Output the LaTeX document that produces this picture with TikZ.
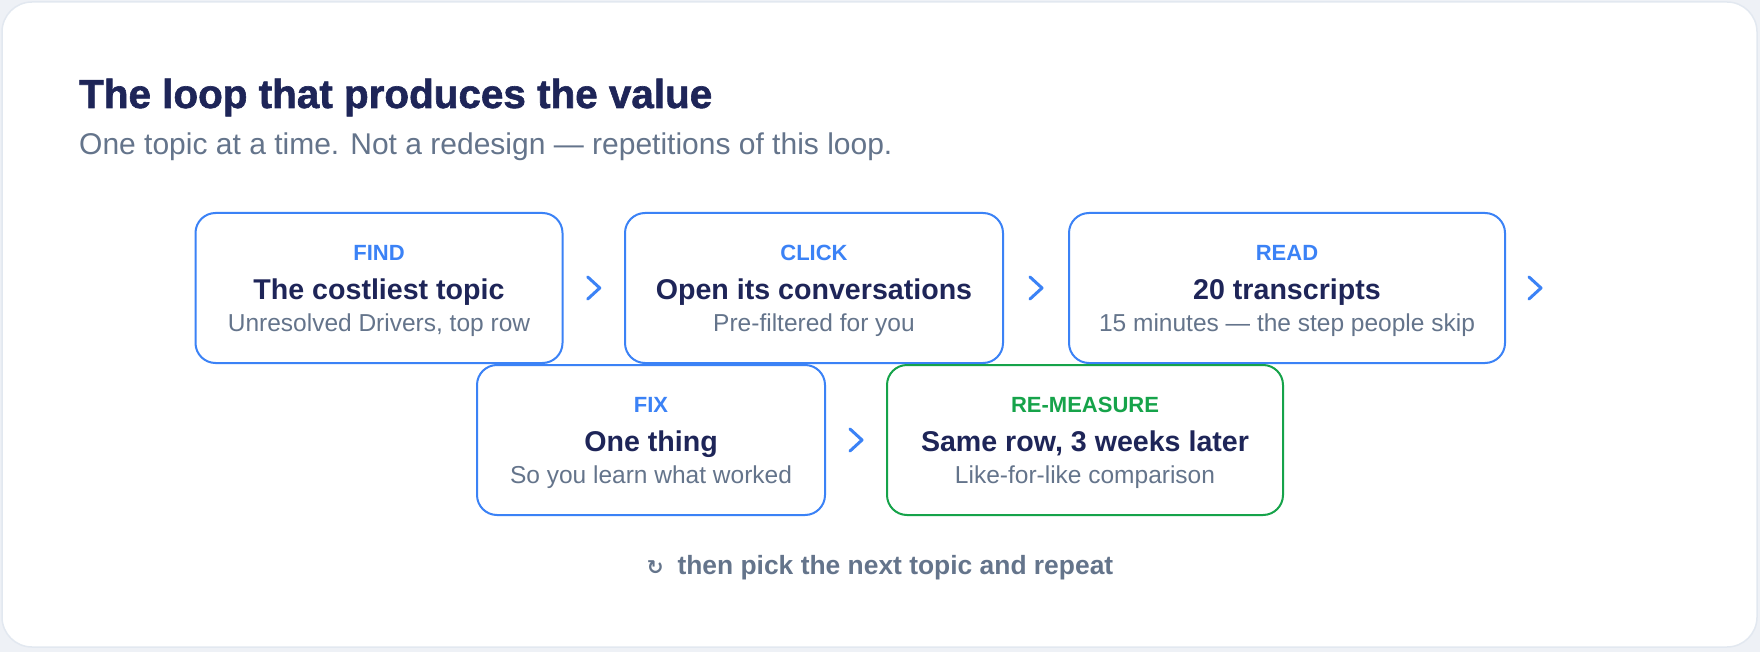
\documentclass[tikz,border=0pt]{standalone}
\usepackage{fontspec}
\setmainfont{Liberation Sans}
\newfontfamily\symfont{DejaVu Sans}
\newfontfamily\heavyfont[FakeBold=1.5]{Liberation Sans Bold}
\usetikzlibrary{calc}
\definecolor{navy}{HTML}{1E2558}
\definecolor{slate}{HTML}{64748B}
\definecolor{accent}{HTML}{3B82F6}
\definecolor{okgreen}{HTML}{16A34A}
\definecolor{cardline}{HTML}{E2E8F0}
\definecolor{pagebg}{HTML}{EEF1F6}

\begin{document}
\begin{tikzpicture}[x=1pt, y=1pt,
  stepbox/.style={draw=accent, line width=2pt, rounded corners=20pt, fill=white, minimum height=150pt, inner sep=0pt, outer sep=0pt},
  tag/.style={anchor=base, inner sep=0pt, text=accent, font=\fontsize{22}{26}\selectfont\bfseries},
  head/.style={anchor=base, inner sep=0pt, text=navy, font=\fontsize{28.6}{32}\selectfont\bfseries},
  sub/.style={anchor=base, inner sep=0pt, text=slate, font=\fontsize{24.5}{28}\selectfont},
  chev/.style={draw=accent, line width=3pt, line cap=round, line join=round}]
% card
\fill[pagebg] (0,0) rectangle (1760,-652);
\draw[cardline, fill=white, line width=1.5pt, rounded corners=30pt] (2,-2) rectangle (1757,-647);
\node[anchor=base west, inner sep=0pt, text=navy, font=\fontsize{40.4}{46}\selectfont\heavyfont] (title) at (79,-108) {The loop that produces the value};
\node[anchor=base west, inner sep=0pt, text=slate, font=\fontsize{30}{34}\selectfont] (subtitle) at (79,-155) {One topic at a time. Not a redesign — repetitions of this loop.};
% first row
\node[stepbox, minimum width=367pt] (find) at (379,-288) {};
\node[stepbox, minimum width=378pt] (click) at (814,-288) {};
\node[stepbox, minimum width=436pt] (read) at (1287,-288) {};
% second row
\node[stepbox, minimum width=348pt] (fix) at (651,-440) {};
\node[stepbox, draw=okgreen, minimum width=396pt] (remeasure) at (1085,-440) {};
% texts
\node[tag] (findtag) at ([yshift=-47pt]find.north) {FIND};
\node[head] (findhead) at ([yshift=-86pt]find.north) {The costliest topic};
\node[sub] (findsub) at ([yshift=-118pt]find.north) {Unresolved Drivers, top row};
\node[tag] (clicktag) at ([yshift=-47pt]click.north) {CLICK};
\node[head] (clickhead) at ([yshift=-86pt]click.north) {Open its conversations};
\node[sub] (clicksub) at ([yshift=-118pt]click.north) {Pre-filtered for you};
\node[tag] (readtag) at ([yshift=-47pt]read.north) {READ};
\node[head] (readhead) at ([yshift=-86pt]read.north) {20 transcripts};
\node[sub] (readsub) at ([yshift=-118pt]read.north) {15 minutes — the step people skip};
\node[tag] (fixtag) at ([yshift=-47pt]fix.north) {FIX};
\node[head] (fixhead) at ([yshift=-86pt]fix.north) {One thing};
\node[sub] (fixsub) at ([yshift=-118pt]fix.north) {So you learn what worked};
\node[tag, text=okgreen] (remeasuretag) at ([yshift=-47pt]remeasure.north) {RE-MEASURE};
\node[head] (remeasurehead) at ([yshift=-86pt]remeasure.north) {Same row, 3 weeks later};
\node[sub] (remeasuresub) at ([yshift=-118pt]remeasure.north) {Like-for-like comparison};
% chevrons
\draw[chev] ($(find.east)!.5!(click.west)+(-6,11)$) -- ++(12,-11) -- ++(-12,-11);
\draw[chev] ($(click.east)!.5!(read.west)+(-6,11)$) -- ++(12,-11) -- ++(-12,-11);
\draw[chev] ($(read.east)+(24,11)$) -- ++(12,-11) -- ++(-12,-11);
\draw[chev] ($(fix.east)!.5!(remeasure.west)+(-6,11)$) -- ++(12,-11) -- ++(-12,-11);
% footer
\node[anchor=base, inner sep=0pt, text=slate, font=\fontsize{26.4}{30}\selectfont\bfseries] (repeat) at (880,-574) {{\symfont\fontsize{20}{22}\selectfont ↻}\hspace{14pt}then pick the next topic and repeat};
\end{tikzpicture}
\end{document}
